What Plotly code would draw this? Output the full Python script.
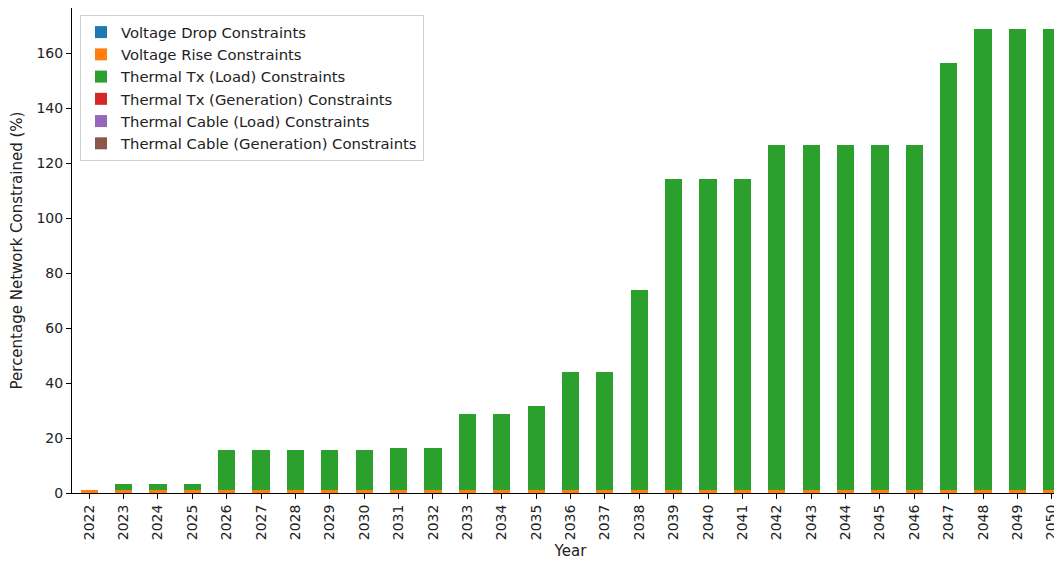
import plotly.graph_objects as go

years = [str(y) for y in range(2022, 2051)]
voltage_drop = [0.0] * 29
voltage_rise = [1.1] * 29
thermal_tx_load = [0.0, 2.2, 2.2, 2.2, 14.6, 14.6, 14.6, 14.6, 14.6, 15.2, 15.2,
                   27.7, 27.7, 30.4, 43.0, 43.0, 72.8, 113.1, 113.1, 113.1,
                   125.5, 125.5, 125.5, 125.5, 125.5, 155.4, 168.0, 168.0, 168.0]
thermal_tx_gen = [0.0] * 29
thermal_cable_load = [0.0] * 29
thermal_cable_gen = [0.0] * 29

series = [
    ("Voltage Drop Constraints", voltage_drop, "#1f77b4"),
    ("Voltage Rise Constraints", voltage_rise, "#ff7f0e"),
    ("Thermal Tx (Load) Constraints", thermal_tx_load, "#2ca02c"),
    ("Thermal Tx (Generation) Constraints", thermal_tx_gen, "#d62728"),
    ("Thermal Cable (Load) Constraints", thermal_cable_load, "#9467bd"),
    ("Thermal Cable (Generation) Constraints", thermal_cable_gen, "#8c564b"),
]

fig = go.Figure()
for name, vals, col in series:
    fig.add_trace(go.Bar(x=list(range(len(years))), y=vals, name=name,
                         marker=dict(color=col, line=dict(width=0)), width=0.5))

TFS = 14
LFS = 14.8
font = dict(family="DejaVu Sans", size=TFS, color="#222222")
fig.update_layout(
    barmode="stack",
    width=1062, height=561,
    margin=dict(l=64, r=1, t=0, b=76, autoexpand=False),
    paper_bgcolor="white", plot_bgcolor="white",
    font=font,
    showlegend=True,
    legend=dict(x=0.008, y=0.9856, xanchor="left", yanchor="top",
                bgcolor="white", bordercolor="#d0d0d0", borderwidth=1,
                font=dict(family="DejaVu Sans", size=LFS, color="#222222"),
                traceorder="normal"),
    xaxis=dict(range=[-0.5, 28.5], tickmode="array",
               tickvals=list(range(len(years))), ticktext=years,
               tickangle=-90, ticks="outside", ticklen=5, tickcolor="black",
               tickfont=dict(size=TFS),
               showline=True, linecolor="black", linewidth=1, mirror=True,
               showgrid=False, zeroline=False, automargin=False,
               title=dict(text="Year", standoff=6, font=dict(size=15))),
    yaxis=dict(range=[0, 176.6], tickmode="array",
               tickvals=[0, 20, 40, 60, 80, 100, 120, 140, 160],
               ticks="outside", ticklen=5, tickcolor="black",
               tickfont=dict(size=TFS),
               showline=True, linecolor="black", linewidth=1, mirror=False,
               showgrid=False, zeroline=False, automargin=False,
               title=dict(text="Percentage Network Constrained (%)", standoff=10,
                          font=dict(size=15))),
)
fig.write_html("out.html")
